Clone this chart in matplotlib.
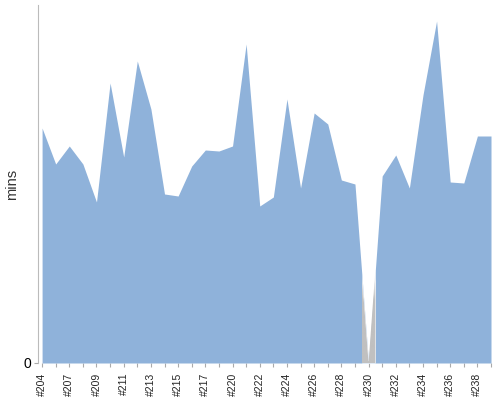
import matplotlib.pyplot as plt
import numpy as np
from matplotlib.colors import LinearSegmentedColormap

plt.rcParams['font.family'] = ['Liberation Sans', 'DejaVu Sans']

builds = ['#204', '#205', '#207', '#208', '#209', '#210', '#211', '#212',
          '#213', '#214', '#215', '#216', '#217', '#218', '#220', '#221',
          '#222', '#223', '#224', '#225', '#226', '#227', '#228', '#229',
          '#230', '#231', '#232', '#233', '#234', '#235', '#236', '#237',
          '#238', '#239']
mins = [23.5, 19.9, 21.7, 19.9, 16.1, 28.0, 20.6, 30.2, 25.4, 16.9,
        16.7, 19.7, 21.3, 21.2, 21.7, 31.9, 15.7, 16.6, 26.4, 17.5,
        25.0, 23.9, 18.3, 17.9, 0.0, 18.7, 20.8, 17.5, 26.8, 34.2,
        18.1, 18.0, 22.7, 22.7]
missing = ['#230']

blue = '#8fb2da'
grey = '#c0c0c0'

fig = plt.figure(figsize=(5, 4), dpi=100)
ax = fig.add_axes([0.076, 0.0925, 0.906, 0.895])

x = np.arange(len(builds))
ax.fill_between(x, mins, 0, color=blue, linewidth=0, zorder=2)

# grey shading for the missing build, fading out towards the top
fade = LinearSegmentedColormap.from_list('fade', ['white', grey])
for b in missing:
    i = builds.index(b)
    xs = np.linspace(i - 0.5, i + 0.5, 50)
    ys = np.interp(xs, x, mins)
    poly = ax.fill_between(xs, ys, 0, color='white', linewidth=0, zorder=3)
    top = ys.max()
    shade = np.clip((9.3 - np.linspace(0, top, 100)) / 3.0, 0, 1)
    img = ax.imshow(shade.reshape(-1, 1), cmap=fade, vmin=0, vmax=1,
                    origin='lower', extent=(i - 0.5, i + 0.5, 0, top),
                    aspect='auto', zorder=4)
    img.set_clip_path(poly.get_paths()[0], transform=ax.transData)

ax.set_xlim(-0.3, len(builds) - 1)
ax.set_ylim(0, 35.8)

ax.set_xticks(x)
ax.set_xticklabels([b if k % 2 == 0 else '' for k, b in enumerate(builds)],
                   rotation=90, fontsize=7.5, color='#222222')
ax.set_yticks([0])
ax.set_yticklabels(['0'], fontsize=9, color='#888888')
ax.tick_params(axis='x', length=3, color='#aaaaaa', pad=4)
ax.tick_params(axis='y', length=3, color='#aaaaaa', pad=2)

ax.set_ylabel('mins', fontsize=10.5, color='#333333')
ax.yaxis.set_label_coords(-0.042, 0.5)

for side in ['top', 'right', 'bottom']:
    ax.spines[side].set_visible(False)
ax.spines['left'].set_color('#bbbbbb')
ax.spines['left'].set_position(('data', -0.3))

fig.savefig('out.png', dpi=100)
